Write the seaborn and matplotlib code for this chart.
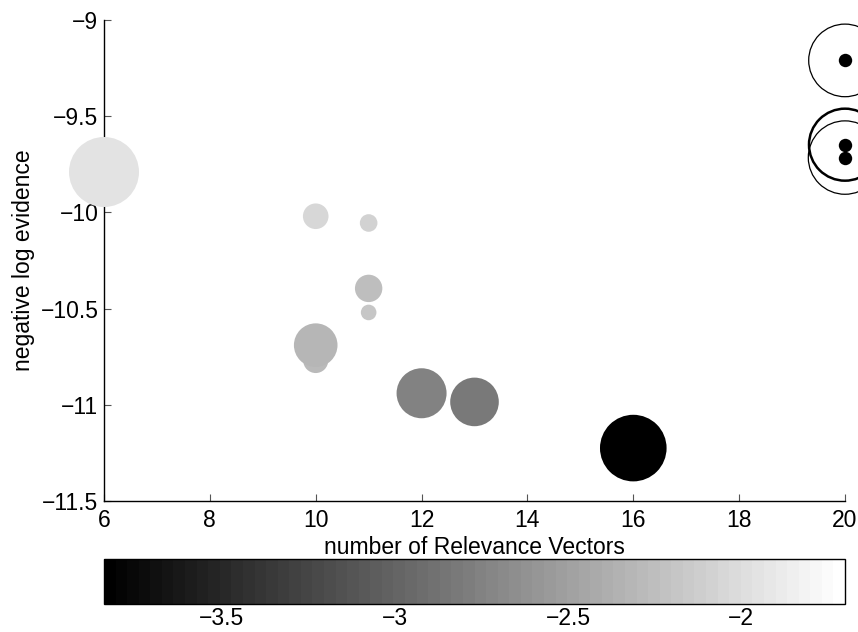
import numpy as np
import pandas as pd
import matplotlib
matplotlib.use("Agg")
import matplotlib.pyplot as plt
import seaborn as sns
from matplotlib.colors import Normalize
from matplotlib.cm import ScalarMappable

# ---- data ----
n_rv = [6, 10, 11, 11, 11, 10, 10, 12, 13, 16]
neg_log_ev = [-9.79, -10.02, -10.055, -10.395, -10.52, -10.77, -10.69, -10.94, -10.985, -11.225]
log_param = [-1.95, -2.04, -2.07, -2.24, -2.20, -2.29, -2.32, -2.74, -2.83, -3.84]
radius_px = [35, 12.8, 8.8, 13.7, 7.8, 12.5, 21.8, 25, 24.3, 33.3]

# points at the right edge (outlined circles with black dots)
edge_x = [20, 20, 20]
edge_y = [-9.21, -9.648, -9.715]
edge_r = [36.3, 36, 36.7]
edge_lw = [0.9, 1.8, 0.9]

cbar_min, cbar_max = -3.84, -1.70
cbar_ticks = [-3.5, -3, -2.5, -2]
x_ticks = [6, 8, 10, 12, 14, 16, 18, 20]
y_ticks = [-11.5, -11, -10.5, -10, -9.5, -9]

DPI = 100
FS = 16.5
def size_from_r(r):
    return (2 * r * 72.0 / DPI) ** 2

sns.set_theme(style="white")
plt.rcParams['font.family'] = ['Liberation Sans', 'DejaVu Sans']
plt.rcParams['font.size'] = FS
plt.rcParams['text.color'] = 'black'
plt.rcParams['axes.labelcolor'] = 'black'
plt.rcParams['xtick.color'] = 'black'
plt.rcParams['ytick.color'] = 'black'

fig = plt.figure(figsize=(8.58, 6.32), dpi=DPI)
ax = fig.add_axes([104/858, 1-501/632, (845-104)/858, (501-20)/632])
cax = fig.add_axes([104/858, 1-604/632, (845-104)/858, (604-559)/632])

cmap = plt.get_cmap("gray", 64)
norm = Normalize(vmin=cbar_min, vmax=cbar_max)

df = pd.DataFrame({"x": n_rv, "y": neg_log_ev, "c": log_param,
                   "s": [size_from_r(r) for r in radius_px]})
smin, smax = df["s"].min(), df["s"].max()
sns.scatterplot(data=df, x="x", y="y", hue="c", size="s", palette=cmap,
                hue_norm=norm, sizes=(smin, smax), size_norm=(smin, smax),
                linewidth=0, legend=False, ax=ax, clip_on=False, zorder=3)

edf = pd.DataFrame({"x": edge_x, "y": edge_y,
                    "s": [size_from_r(r) for r in edge_r]})
for i in range(len(edf)):
    ax.scatter(edf["x"][i], edf["y"][i], s=edf["s"][i], facecolors="none",
               edgecolors="black", linewidths=edge_lw[i], clip_on=False, zorder=3)
sns.scatterplot(data=edf, x="x", y="y", color="black", s=size_from_r(6.7),
                linewidth=0, legend=False, ax=ax, clip_on=False, zorder=4)

ax.set_xlim(6, 20)
ax.set_ylim(-11.5, -9)
ax.set_xticks(x_ticks)
ax.set_xticklabels([str(t) for t in x_ticks])
ax.set_yticks(y_ticks)
ax.set_yticklabels([f"{t:g}".replace("-", "\u2212") for t in y_ticks])
for s in ["top", "right"]:
    ax.spines[s].set_visible(False)
for s in ["left", "bottom"]:
    ax.spines[s].set_color("black")
    ax.spines[s].set_linewidth(1.0)
ax.tick_params(direction="in", length=5, width=0.8, color="#555555",
               labelcolor="black", labelsize=FS, left=True, bottom=True)
ax.tick_params(axis="x", pad=6)
ax.tick_params(axis="y", pad=4)
ax.set_xlabel("number of Relevance Vectors", fontsize=FS, labelpad=3, color="black")
ax.set_ylabel("negative log evidence", fontsize=FS, labelpad=4, color="black")
ax.grid(False)
ax.set_facecolor("white")

sm = ScalarMappable(norm=norm, cmap=cmap)
cb = fig.colorbar(sm, cax=cax, orientation="horizontal")
cb.set_ticks(cbar_ticks)
cb.set_ticklabels([f"{t:g}".replace("-", "\u2212") for t in cbar_ticks])
cax.tick_params(direction="in", length=7, width=0.8, color="black",
                labelcolor="black", top=True, bottom=True, labelsize=FS, pad=2)
cb.outline.set_edgecolor("black")
cb.outline.set_linewidth(1.0)

fig.savefig("out.png", dpi=DPI, facecolor="white")
